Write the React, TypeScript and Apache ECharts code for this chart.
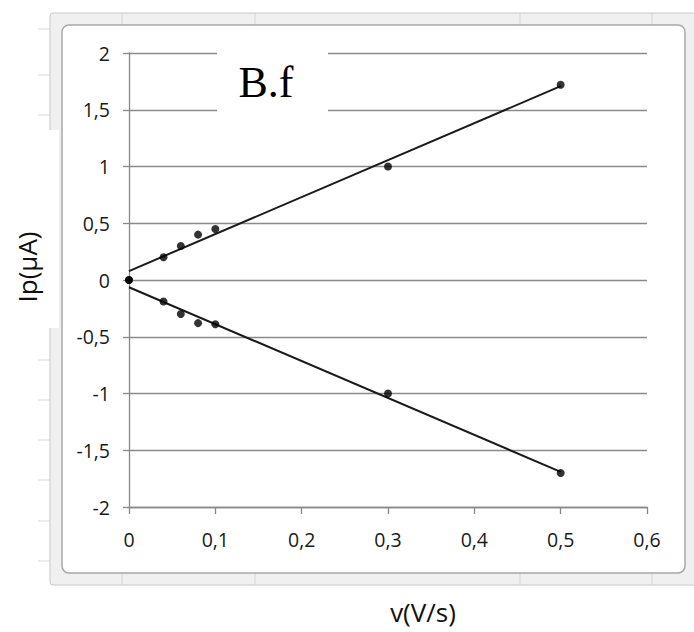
import React, { useEffect, useRef } from "react";
import * as echarts from "echarts";

const xValues = [0, 0.04, 0.06, 0.08, 0.1, 0.3, 0.5];
const upperValues = [0, 0.2, 0.3, 0.4, 0.45, 1.0, 1.72];
const lowerValues = [0, -0.19, -0.3, -0.38, -0.39, -1.0, -1.7];
const xTicks = { min: 0, max: 0.6, interval: 0.1 };
const yTicks = { min: -2, max: 2, interval: 0.5 };
const chartLabel = "B.f";
const xTitle = "v(V/s)";
const yTitle = "Ip(μA)";

function fit(xs: number[], ys: number[]) {
  const n = xs.length;
  const mx = xs.reduce((a, b) => a + b, 0) / n;
  const my = ys.reduce((a, b) => a + b, 0) / n;
  let sxy = 0;
  let sxx = 0;
  for (let i = 0; i < n; i++) {
    sxy += (xs[i] - mx) * (ys[i] - my);
    sxx += (xs[i] - mx) * (xs[i] - mx);
  }
  const slope = sxy / sxx;
  const icpt = my - slope * mx;
  const x0 = Math.min(...xs);
  const x1 = Math.max(...xs);
  return [
    [x0, icpt + slope * x0],
    [x1, icpt + slope * x1],
  ];
}

const fmt = (v: number) => {
  const r = Math.round(v * 10) / 10;
  return String(r).replace(".", ",");
};

export default function App() {
  const ref = useRef<HTMLDivElement>(null);
  useEffect(() => {
    if (!ref.current) return;
    const chart = echarts.init(ref.current, null, { renderer: "svg" });
    const labelFont = { fontFamily: "Open Sans", fontSize: 19.5, color: "#1a1a1a" };
    const titleStyle = { fontFamily: "Open Sans", fontSize: 26, fill: "#111", textAlign: "center", textVerticalAlign: "middle" };
    const bandLines: any[] = [];
    [122, 255, 520, 652].forEach((x) => {
      bandLines.push({ type: "line", z: -9, shape: { x1: x, y1: 13, x2: x, y2: 25 }, style: { stroke: "#d4d4d4", lineWidth: 1 } });
      bandLines.push({ type: "line", z: -9, shape: { x1: x, y1: 573, x2: x, y2: 585 }, style: { stroke: "#d4d4d4", lineWidth: 1 } });
    });
    [29, 75, 115, 360, 400, 440, 480, 521, 561].forEach((y) => {
      bandLines.push({ type: "line", z: -9, shape: { x1: 38, y1: y, x2: 50, y2: y }, style: { stroke: "#d8d8d8", lineWidth: 1 } });
    });
    chart.setOption({
      animation: false,
      backgroundColor: "#ffffff",
      grid: { left: 129, right: 47, top: 53, bottom: 125, containLabel: false, outerBoundsMode: "none" },
      xAxis: {
        type: "value",
        min: xTicks.min,
        max: xTicks.max,
        interval: xTicks.interval,
        axisLine: { show: true, onZero: false, lineStyle: { color: "#888", width: 1.3 } },
        axisTick: { show: true, length: 7, lineStyle: { color: "#888", width: 1.3 } },
        axisLabel: { ...labelFont, margin: 22, formatter: fmt },
        splitLine: { show: false },
      },
      yAxis: {
        type: "value",
        min: yTicks.min,
        max: yTicks.max,
        interval: yTicks.interval,
        axisLine: { show: true, lineStyle: { color: "#888", width: 1.3 } },
        axisTick: { show: true, length: 6, lineStyle: { color: "#888", width: 1.3 } },
        axisLabel: { ...labelFont, margin: 19, formatter: fmt },
        splitLine: { show: true, lineStyle: { color: "#8a8a8a", width: 1.3 } },
      },
      graphic: [
        { type: "rect", z: -10, shape: { x: 50, y: 13, width: 650, height: 572, r: 3 }, style: { fill: "#f0f0f0", stroke: "#c8c8c8", lineWidth: 1 } },
        ...bandLines,
        { type: "rect", z: -8, shape: { x: 62, y: 25, width: 623, height: 548, r: 7 }, style: { fill: "#ffffff", stroke: "#a8a8a8", lineWidth: 1.5 } },
        { type: "rect", z: -7, shape: { x: 0, y: 130, width: 59, height: 198 }, style: { fill: "#ffffff" } },
        { type: "rect", z: 5, shape: { x: 217, y: 47, width: 111, height: 72 }, style: { fill: "#ffffff" } },
        {
          type: "text",
          z: 6,
          x: 266,
          y: 104,
          style: { text: chartLabel, fontFamily: "Liberation Serif", fontSize: 44, fill: "#000", textAlign: "center", textVerticalAlign: "bottom" },
        },
        { type: "text", z: 6, x: 423, y: 612, style: { text: xTitle, ...titleStyle } },
        { type: "text", z: 6, x: 27, y: 267, rotation: Math.PI / 2, style: { text: yTitle, ...titleStyle } },
      ],
      series: [
        {
          type: "line",
          data: fit(xValues, upperValues),
          showSymbol: false,
          lineStyle: { color: "#1a1a1a", width: 2 },
          z: 3,
        },
        {
          type: "line",
          data: fit(xValues, lowerValues),
          showSymbol: false,
          lineStyle: { color: "#1a1a1a", width: 2 },
          z: 3,
        },
        {
          type: "scatter",
          data: xValues.map((x, i) => [x, upperValues[i]]),
          symbolSize: 8,
          itemStyle: { color: "#000" },
          z: 4,
        },
        {
          type: "scatter",
          data: xValues.map((x, i) => [x, lowerValues[i]]),
          symbolSize: 8,
          itemStyle: { color: "#000" },
          z: 4,
        },
      ],
    });
    return () => chart.dispose();
  }, []);
  return <div ref={ref} style={{ width: 694, height: 632, position: "absolute", left: 0, top: 0 }} />;
}
